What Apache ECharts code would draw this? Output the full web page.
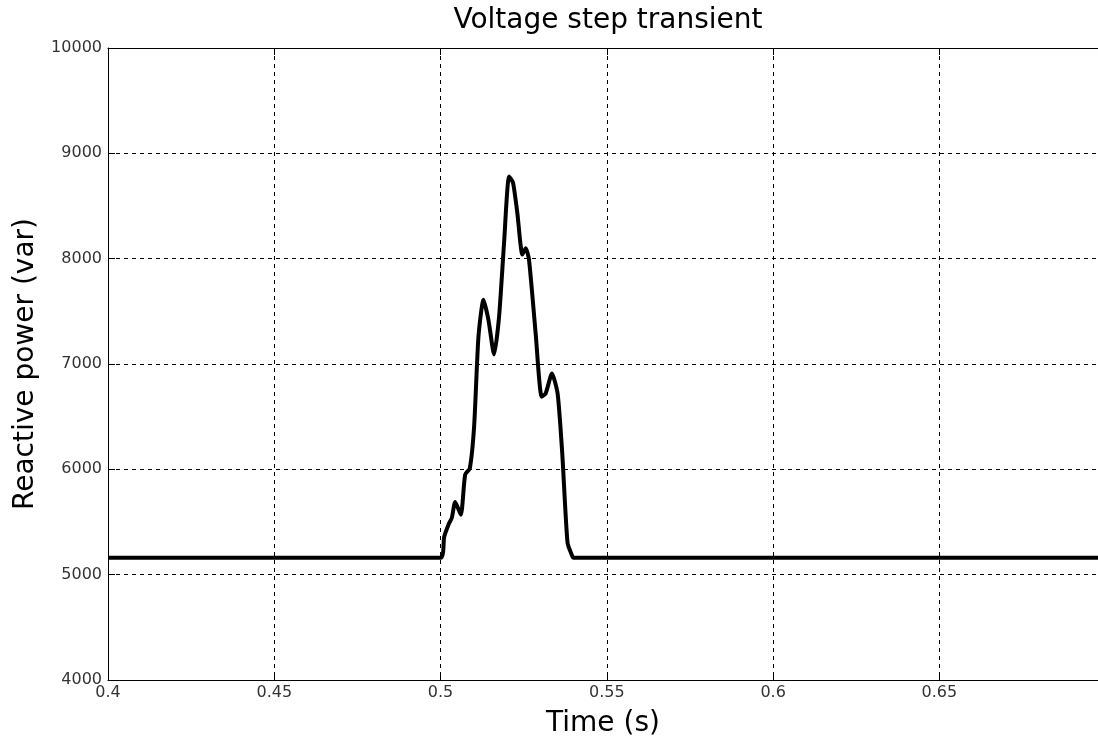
<!DOCTYPE html>
<html>
<head>
<meta charset="utf-8">
<script src="https://cdn.jsdelivr.net/npm/echarts@6/dist/echarts.min.js"></script>
<style>
  html, body { margin: 0; padding: 0; background: #fff; }
  #chart { width: 1098px; height: 743px; }
</style>
</head>
<body>
<div id="chart"></div>
<script>
// time (s) and reactive power (var)
const times = [0.4, 0.5, 0.5011, 0.5026, 0.5034, 0.5044, 0.5061, 0.5074, 0.5088, 0.5101,
  0.5114, 0.5129, 0.5144, 0.5161, 0.5176, 0.5191, 0.5206, 0.5218, 0.5231, 0.5246,
  0.5256, 0.5266, 0.5286, 0.5304, 0.5316, 0.5335, 0.5352, 0.5366, 0.5382, 0.5397,
  0.54, 0.7];
const power = [5160, 5160, 5360, 5490, 5540, 5690, 5570, 5950, 6010, 6410,
  7260, 7610, 7420, 7090, 7450, 8150, 8780, 8720, 8430, 8040,
  8100, 7990, 7290, 6690, 6720, 6910, 6720, 6150, 5300, 5170,
  5160, 5160];

const xMin = 0.4, xMax = 0.6977, xStep = 0.05;
const yMin = 4000, yMax = 10000, yStep = 1000;

const chart = echarts.init(document.getElementById("chart"));
const font = "'DejaVu Sans', sans-serif";

chart.setOption({
  animation: false,
  title: {
    text: "Voltage step transient",
    left: 603,
    textAlign: "center",
    top: 2,
    textStyle: { fontFamily: font, fontSize: 28, fontWeight: "normal", color: "#000" }
  },
  grid: { left: 108, right: 0, top: 48, bottom: 63 },
  xAxis: [{
    type: "value",
    min: xMin, max: xMax, interval: xStep,
    name: "Time (s)",
    nameLocation: "middle",
    nameGap: 30,
    nameTextStyle: { fontFamily: font, fontSize: 28, color: "#000" },
    axisLine: { lineStyle: { color: "#000" } },
    axisTick: { inside: true, length: 7, lineStyle: { color: "#000" } },
    axisLabel: {
      fontFamily: font, fontSize: 16, color: "#333", margin: 5, showMaxLabel: false,
      formatter: v => String(+v.toFixed(2))
    },
    splitLine: { show: true, lineStyle: { color: "#000", type: [4, 4], width: 1 } }
  }, {
    // top edge of the box
    type: "value",
    position: "top",
    min: xMin, max: xMax, interval: xStep,
    axisLine: { show: true, lineStyle: { color: "#000" } },
    axisTick: { show: true, inside: true, length: 7, lineStyle: { color: "#000" } },
    axisLabel: { show: false },
    splitLine: { show: false }
  }],
  yAxis: {
    type: "value",
    min: yMin, max: yMax, interval: yStep,
    name: "Reactive power (var)",
    nameLocation: "middle",
    nameGap: 68,
    nameTextStyle: { fontFamily: font, fontSize: 28, color: "#000" },
    axisLine: { show: true, lineStyle: { color: "#000" } },
    axisTick: { show: true, inside: true, length: 7, lineStyle: { color: "#000" } },
    axisLabel: { fontFamily: font, fontSize: 16, color: "#333", margin: 6, formatter: v => String(v) },
    splitLine: { show: true, lineStyle: { color: "#000", type: [4, 4], width: 1 } }
  },
  series: [{
    type: "line",
    data: times.map((t, i) => [t, power[i]]),
    showSymbol: false,
    smooth: 0.2,
    lineStyle: { color: "#000", width: 4 },
    clip: true
  }]
});
</script>
</body>
</html>
